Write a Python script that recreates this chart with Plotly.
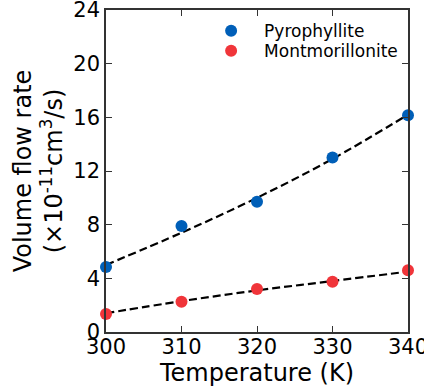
import plotly.graph_objects as go

temperature = [300, 310, 320, 330, 340]
pyrophyllite = [4.85, 7.9, 9.7, 13.0, 16.15]
montmorillonite = [1.35, 2.25, 3.2, 3.75, 4.6]
pyro_fit = [5.0, 7.4, 10.0, 12.9, 16.2]
mont_fit = [1.4, 2.3, 3.1, 3.8, 4.5]
xticks = [300, 310, 320, 330, 340]
yticks = [0, 4, 8, 12, 16, 20, 24]

BLUE = "#005fb8"
RED = "#f0353a"
FONT = "DejaVu Sans"

fig = go.Figure()
fig.add_trace(go.Scatter(x=temperature, y=pyro_fit, mode="lines", line=dict(color="black", width=2.2, dash="8px,4px", shape="spline"), showlegend=False, hoverinfo="skip"))
fig.add_trace(go.Scatter(x=temperature, y=mont_fit, mode="lines", line=dict(color="black", width=2.2, dash="8px,4px", shape="spline"), showlegend=False, hoverinfo="skip"))
fig.add_trace(go.Scatter(x=temperature, y=pyrophyllite, mode="markers", name="Pyrophyllite", marker=dict(color=BLUE, size=12), cliponaxis=False, legend="legend"))
fig.add_trace(go.Scatter(x=temperature, y=montmorillonite, mode="markers", name="Montmorillonite", marker=dict(color=RED, size=12), cliponaxis=False, legend="legend2"))

axis_common = dict(showgrid=False, zeroline=False, showline=True, linecolor="#333", linewidth=1.5,
                   mirror="ticks", ticks="inside", ticklen=6, tickcolor="#333", tickwidth=1.2,
                   automargin=False, ticklabeloverflow="allow",
                   tickfont=dict(family=FONT, size=21, color="black"))
fig.update_xaxes(range=[300, 340], tickvals=xticks, ticklabelstandoff=-5,
                 title=dict(text="Temperature (K)", font=dict(family=FONT, size=24, color="black"), standoff=0), **axis_common)
fig.update_yaxes(range=[0, 24], tickvals=yticks,
                 title=dict(text="Volume flow rate<br>(×10<sup>-11</sup>cm<sup>3</sup>/s)", font=dict(family=FONT, size=24, color="black"), standoff=4), **axis_common)

leg_common = dict(xanchor="left", yanchor="top", bgcolor="rgba(0,0,0,0)",
                  font=dict(family=FONT, size=17, color="black"), itemsizing="constant", itemwidth=56)
fig.update_layout(
    width=424, height=389,
    margin=dict(l=106, r=16, t=10, b=57),
    plot_bgcolor="white", paper_bgcolor="white",
    font=dict(family=FONT, color="black"),
    legend=dict(x=0.305, y=0.99, **leg_common),
    legend2=dict(x=0.305, y=0.928, **leg_common),
)
fig.write_html("out.html")
